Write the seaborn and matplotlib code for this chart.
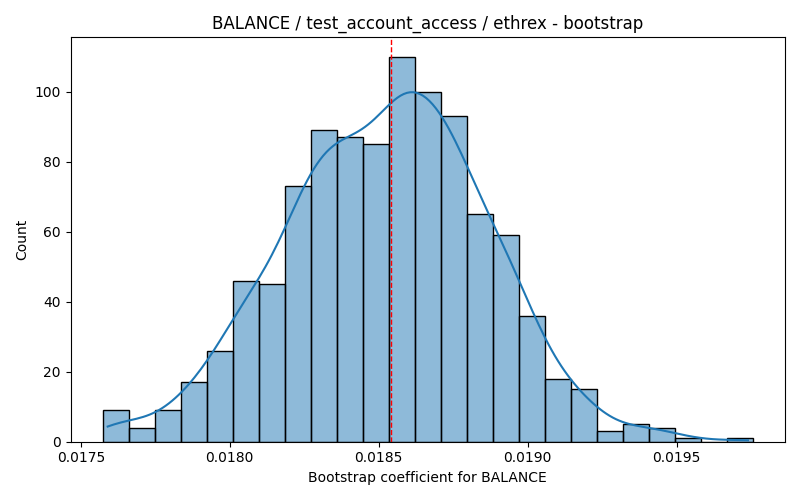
import numpy as np
import pandas as pd
import matplotlib
matplotlib.use("Agg")
import matplotlib.pyplot as plt
import seaborn as sns

# Histogram bins
bin_start = 0.017575
bin_end = 0.019755
counts = [9, 4, 9, 17, 26, 46, 45, 73, 89, 87, 85, 110, 100, 93, 65, 59,
          36, 18, 15, 3, 5, 4, 1, 0, 1]
point_estimate = 0.01854
title = "BALANCE / test_account_access / ethrex - bootstrap"
xlabel = "Bootstrap coefficient for BALANCE"
ylabel = "Count"

edges = np.linspace(bin_start, bin_end, len(counts) + 1)
centers = (edges[:-1] + edges[1:]) / 2
df = pd.DataFrame({"coef": centers, "n": np.array(counts, dtype=float)})

fig, ax = plt.subplots(figsize=(8, 5), dpi=100)
sns.histplot(data=df, x="coef", weights="n", bins=len(counts),
             binrange=(bin_start, bin_end), kde=True, ax=ax,
             kde_kws={"cut": 0.2, "bw_adjust": 0.42})
ax.axvline(point_estimate, color="red", linestyle="--", linewidth=1)
pad = 0.05 * (bin_end - bin_start)
ax.set_xlim(bin_start - pad, bin_end + pad)
ax.set_title(title)
ax.set_xlabel(xlabel)
ax.set_ylabel(ylabel)
fig.tight_layout()
fig.savefig("out.png", dpi=100)
